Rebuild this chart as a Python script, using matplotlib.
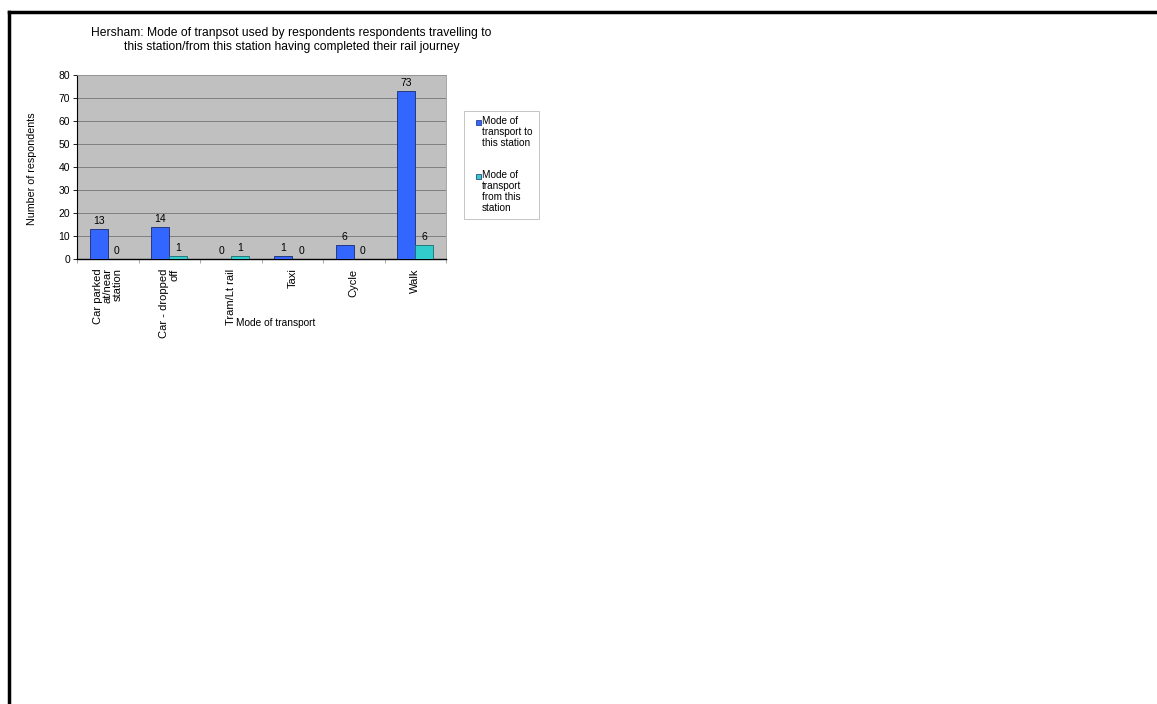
import matplotlib
matplotlib.use("Agg")
import matplotlib.pyplot as plt
from matplotlib.lines import Line2D
from matplotlib.patches import Rectangle
import numpy as np

plt.rcParams['font.family'] = ['Liberation Sans', 'DejaVu Sans']

# data
categories = ["Car parked\nat/near\nstation", "Car - dropped\noff", "Tram/Lt rail",
              "Taxi", "Cycle", "Walk"]
to_station = [13, 14, 0, 1, 6, 73]
from_station = [0, 1, 1, 0, 0, 6]
series_names = ["Mode of\ntransport to\nthis station", "Mode of\ntransport\nfrom this\nstation"]
series_colors = ['#3366FF', '#33CCCC']
title = ("Hersham: Mode of tranpsot used by respondents respondents travelling to\n"
         "this station/from this station having completed their rail journey")

W, H = 1157, 704
fig = plt.figure(figsize=(W / 100, H / 100), dpi=100)
ax = fig.add_axes([0.0666, 0.6325, 0.3189, 0.261])

x = np.arange(len(categories))
w = 0.29
b1 = ax.bar(x - w / 2, to_station, w, color=series_colors[0], edgecolor='#1a2a6e',
            linewidth=0.6, zorder=3)
b2 = ax.bar(x + w / 2, from_station, w, color=series_colors[1], edgecolor='#1a6e6e',
            linewidth=0.6, zorder=3)

for rect, v in list(zip(b1, to_station)) + list(zip(b2, from_station)):
    ax.text(rect.get_x() + rect.get_width() / 2, v + 1.3, str(v), ha='center', va='bottom',
            fontsize=7.5)

ax.set_facecolor('#C0C0C0')
ax.set_xlim(-0.5, len(categories) - 0.5)
ax.set_ylim(0, 80)
ax.set_yticks(range(0, 81, 10))
ax.yaxis.grid(True, color='#808080', linewidth=0.7, zorder=0)
ax.tick_params(axis='y', labelsize=7.5, length=3, width=0.6, pad=2)

ax.set_xticks(x)
ax.set_xticklabels(categories, rotation=90, fontsize=8, va='top', ha='center',
                   multialignment='right', linespacing=0.95)
ax.tick_params(axis='x', length=0, pad=7)
ax.set_xticks(np.arange(-0.5, len(categories), 1), minor=True)
ax.tick_params(axis='x', which='minor', length=3, color='#999999', width=0.6)

for s in ['top', 'right']:
    ax.spines[s].set_color('#999999')
    ax.spines[s].set_linewidth(0.6)
ax.spines['left'].set_linewidth(0.8)
ax.spines['bottom'].set_linewidth(1.0)

ax.set_ylabel("Number of respondents", fontsize=7.7)
ax.yaxis.set_label_coords(-0.108, 0.49)
ax.set_xlabel("Mode of transport", fontsize=7.3)
ax.xaxis.set_label_coords(0.537, -0.325)

fig.text(291.5 / W, 1 - 27 / H, title, fontsize=8.7, ha='center', va='top',
         multialignment='center', linespacing=1.2)

# legend drawn by hand so each marker sits at its first text line
fig.add_artist(Rectangle((464 / W, 1 - 219 / H), 75 / W, 108 / H,
                         transform=fig.transFigure, facecolor='white',
                         edgecolor='#bbbbbb', linewidth=0.6))
for name, col, ytop in zip(series_names, series_colors, [116.5, 170.5]):
    fig.add_artist(Rectangle((476 / W, 1 - (ytop + 8) / H), 5 / W, 5 / H,
                             transform=fig.transFigure, facecolor=col,
                             edgecolor='#1a2a6e', linewidth=0.5))
    fig.text(482 / W, 1 - ytop / H, name, fontsize=7.2, va='top', ha='left',
             linespacing=1.12)

# page border
fig.add_artist(Line2D([0.0074, 1], [0.983, 0.983], color='black', linewidth=2.5,
                      transform=fig.transFigure))
fig.add_artist(Line2D([0.0074, 0.0074], [0, 0.983], color='black', linewidth=2.5,
                      transform=fig.transFigure))

fig.savefig("out.png", dpi=100)
